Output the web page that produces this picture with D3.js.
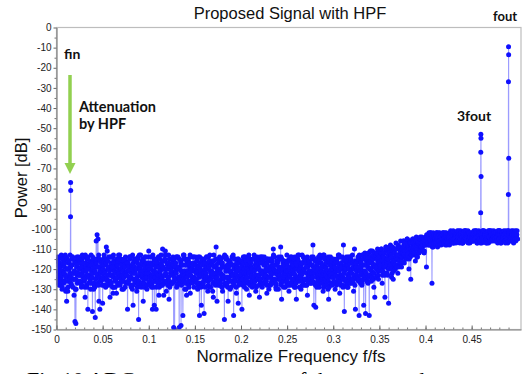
<!DOCTYPE html>
<html>
<head>
<meta charset="utf-8">
<script src="https://cdn.jsdelivr.net/npm/d3@7"></script>
<style>
  body { margin: 0; background: #fff; }
  svg { display: block; }
</style>
</head>
<body>
<svg id="chart" width="525" height="374"></svg>
<script>
// FFT bins of the noise floor, one every 0.001 f/fs
const binStep = 0.001;
const noiseDb = [
  -121,-116,-127,-119,-114,-124,-130,-118,-122,-115,-131,-136,-120,-117,-125,-119,-128,-114,-122,-133,-146,-147,-118,-126,-115,
  -123,-117,-129,-113,-121,-126,-134,-119,-115,-140,-124,-118,-130,-121,-141,-116,-127,-144,-106,-103,-105,-136,-140,-119,-125,
  -137,-122,-116,-128,-109,-111,-120,-126,-134,-117,-123,-114,-129,-119,-125,-132,-118,-121,-115,-127,-120,-130,-116,-124,-119,
  -122,-117,-140,-126,-114,-121,-129,-118,-138,-116,-127,-120,-131,-115,-145,-123,-119,-128,-117,-136,-125,-114,-122,-130,-119,
  -111,-124,-118,-129,-140,-121,-138,-116,-140,-126,-119,-133,-115,-123,-128,-110,-120,-126,-111,-131,-117,-124,-135,-119,-122,
  -127,-116,-149,-150,-121,-114,-128,-120,-149,-125,-148,-118,-143,-123,-130,-115,-133,-121,-126,-117,-132,-119,-124,-114,-129,
  -121,-126,-116,-130,-119,-143,-123,-138,-115,-127,-142,-120,-125,-114,-131,-118,-124,-129,-116,-122,-134,-119,-126,-109,-136,
  -120,-115,-128,-122,-117,-131,-124,-145,-119,-114,-127,-136,-121,-116,-129,-123,-118,-143,-125,-115,-132,-120,-137,-126,-117,
  -122,-140,-119,-127,-114,-124,-130,-118,-121,-133,-116,-126,-120,-128,-115,-123,-131,-119,-125,-117,-134,-121,-114,-129,-122,
  -118,-126,-120,-132,-115,-124,-119,-128,-116,-122,-110,-127,-121,-130,-117,-125,-114,-123,-109,-135,-120,-126,-116,-129,-121,
  -117,-124,-131,-119,-114,-127,-122,-116,-129,-120,-135,-118,-125,-113,-123,-130,-117,-126,-121,-115,-128,-119,-133,-124,-116,
  -122,-127,-115,-108,-138,-120,-139,-118,-126,-114,-129,-121,-117,-124,-131,-113,-125,-119,-128,-116,-135,-122,-114,-127,-120,
  -124,-117,-130,-121,-115,-126,-119,-132,-114,-123,-128,-108,-141,-118,-125,-116,-129,-120,-114,-127,-122,-117,-131,-110,-140,
  -119,-125,-115,-143,-121,-117,-128,-113,-138,-123,-142,-116,-126,-112,-143,-120,-111,-124,-115,-129,-134,-113,-119,-110,-125,
  -116,-121,-110,-127,-114,-119,-134,-109,-117,-123,-137,-112,-108,-120,-115,-125,-110,-118,-107,-113,-122,-109,-116,-106,-119,
  -112,-106,-117,-109,-114,-105,-111,-120,-107,-125,-110,-105,-113,-108,-116,-104,-110,-107,-112,-105,-109,-104,-111,-106,-108,
  -104,-119,-106,-103,-108,-105,-102,-127,-106,-104,-107,-103,-105,-109,-102,-106,-104,-108,-103,-105,-107,-102,-104,-106,-103,
  -105,-108,-102,-104,-106,-101,-105,-103,-107,-102,-104,-106,-103,-101,-105,-107,-102,-104,-106,-103,-105,-101,-104,-107,-102,
  -104,-106,-102,-105,-103,-101,-106,-104,-102,-105,-103,-107,-101,-104,-106,-102,-105,-103,-101,-104,-106,-102,-105,-103,-101,
  -104,-102,-106,-103,-101,-105,-103,-107,-102,-104,-101,-106,-103,-102,-105,-101,-104,-102,-106,-103,-101,-104,-102,-105,-103
];

// in-between bins (at +0.25, +0.5, +0.75 of a step), given as dB below -100
const depthQ1 = [
  18,24,15,27,21,13,29,17,22,26,14,20,31,16,23,19,28,15,25,21,17,30,14,22,26,
  20,15,28,23,17,25,13,21,29,18,24,16,27,22,14,30,19,25,17,23,28,15,21,26,18,
  24,17,21,29,15,26,19,23,14,27,20,32,16,22,25,18,28,13,24,20,17,26,21,15,29,
  16,23,27,19,25,14,22,30,17,21,26,15,24,28,18,20,13,27,23,16,29,19,25,22,17,
  22,28,14,24,18,26,21,15,29,17,23,19,27,13,25,20,33,16,22,26,18,24,15,28,21,
  19,14,26,22,17,29,20,24,15,27,21,18,25,13,23,30,16,22,28,19,14,26,21,17,24,
  25,20,16,28,23,14,21,27,18,24,15,29,22,17,26,19,13,25,21,31,16,23,28,18,22,
  17,26,22,15,29,19,24,13,27,21,18,25,16,30,22,14,23,28,19,26,17,21,15,27,24,
  23,16,28,20,14,25,22,18,27,15,24,19,29,21,13,26,17,23,20,28,16,25,22,14,27,
  14,27,21,17,24,30,15,22,26,19,13,25,18,28,21,16,24,20,27,15,23,29,18,22,26,
  26,19,15,23,28,17,21,25,14,27,20,24,16,29,22,18,13,26,21,25,15,28,19,23,17,
  21,25,18,14,27,22,16,29,20,24,15,26,19,23,13,28,21,17,25,30,16,22,27,18,24,
  15,22,27,20,17,25,13,23,28,19,24,16,21,26,14,29,18,22,27,15,20,25,17,23,19,
  21,16,26,13,23,19,27,15,22,12,25,18,14,24,20,11,26,17,13,22,19,12,24,16,21,
  14,20,10,23,16,12,19, 9,22,15,11,18,13,24, 9,17,12,20,10,15, 8,19,13,11,16,
  10, 6,14, 8,12, 5,11,15, 7,10,13, 6, 9,12, 5, 8,14, 6,10, 4, 9, 7,11, 5, 8,
   5, 3, 7, 4, 8, 2, 6, 4, 9, 3, 5, 7, 2, 6, 4, 8, 3, 5, 7, 2, 4, 6, 3, 8, 5,
   3, 6, 1, 5, 4, 7, 2, 5, 3, 6, 4, 1, 7, 3, 5, 2, 6, 4, 1, 5, 3, 7, 2, 4, 6,
   2, 5, 3, 6, 1, 4, 7, 3, 5, 2, 6, 4, 1, 5, 3, 6, 2, 4, 7, 1, 5, 3, 6, 2, 4,
   5, 2, 4, 7, 3, 1, 6, 4, 2, 5, 3, 6, 1, 4, 7, 2, 5, 3, 1, 6, 4, 2, 5, 3, 1
];
const depthQ2 = [
  25,14,21,17,28,23,15,26,19,13,24,20,29,16,22,27,18,14,25,21,30,17,23,15,20,
  16,27,22,19,14,25,21,28,15,23,18,26,13,24,20,17,29,22,15,27,19,24,16,21,28,
  20,13,25,18,23,16,28,21,26,14,19,24,17,29,22,15,27,20,13,25,18,23,30,16,22,
  27,21,17,24,15,28,20,13,25,19,22,16,29,14,26,21,18,24,15,27,20,23,17,28,14,
  17,24,20,27,13,22,18,26,16,25,14,29,21,17,24,19,27,15,23,20,28,13,26,18,21,
  23,18,15,25,21,14,27,19,24,16,28,22,13,26,18,24,21,15,29,17,23,20,27,14,25,
  14,22,27,19,24,17,29,15,21,26,18,23,14,20,28,16,25,22,17,27,13,24,19,26,21,
  28,16,20,25,18,23,14,27,21,15,29,19,24,17,22,26,13,20,25,18,23,15,28,21,16,
  19,25,14,22,27,16,24,20,13,28,17,23,26,15,21,18,29,14,24,20,26,17,22,27,15,
  24,18,26,15,21,28,19,23,16,25,20,14,27,22,17,30,21,25,14,19,26,16,23,20,28,
  16,23,20,27,14,25,18,22,29,17,24,15,21,26,19,23,28,14,20,25,17,22,27,16,24,
  27,14,24,19,22,16,28,21,17,25,13,23,27,18,22,15,26,20,24,14,29,18,23,16,21,
  22,19,16,28,24,13,21,26,17,23,29,15,25,20,18,27,14,24,21,16,26,19,23,28,17,
  17,24,20,15,27,22,13,25,18,21,14,26,19,12,23,16,21,11,25,18,14,20,12,23,17,
  11,18,15,21,12,17,22,10,16,13,20, 9,18,14,11,21,16,10,19,13,15, 9,17,12,14,
  12, 8,11,15, 6,13, 9,10,14, 7,11, 5,12, 9, 6,13, 8,10, 5,11, 7, 9, 6,12, 8,
   6, 4, 8, 3, 5, 7, 4, 9, 2, 6, 5, 3, 8, 4, 6, 2, 7, 5, 3, 6, 4, 8, 2, 5, 7,
   4, 2, 6, 3, 7, 5, 2, 4, 6, 1, 5, 3, 6, 2, 4, 7, 3, 5, 1, 6, 4, 2, 5, 3, 6,
   6, 3, 1, 5, 4, 2, 6, 3, 5, 7, 2, 4, 6, 1, 3, 5, 7, 2, 4, 6, 3, 1, 5, 4, 2,
   3, 6, 4, 1, 5, 2, 7, 3, 5, 4, 6, 2, 4, 5, 1, 3, 6, 4, 2, 5, 7, 3, 1, 4, 5
];
const depthQ3 = [
  16,22,28,19,25,14,21,27,17,23,30,15,26,20,13,24,18,29,22,16,25,19,27,14,23,
  26,19,15,24,21,29,17,23,14,27,20,25,18,22,15,28,21,16,24,19,13,26,22,17,25,
  15,28,22,17,25,20,14,27,23,18,29,13,21,26,19,24,16,22,28,15,23,20,26,18,14,
  23,17,26,21,14,24,19,28,22,15,25,20,17,27,13,23,29,16,21,25,18,14,24,20,27,
  20,26,17,23,29,15,24,19,22,27,14,21,25,18,28,16,23,13,26,20,24,17,29,22,15,
  27,16,24,19,22,28,14,25,20,17,23,26,15,21,27,18,24,16,22,13,26,20,18,25,21,
  18,25,21,14,27,20,23,16,28,22,17,24,19,25,14,29,21,18,23,16,27,22,15,24,20,
  22,14,27,23,17,25,19,28,15,24,20,16,26,21,18,23,27,15,22,29,19,24,17,20,26,
  25,21,17,29,23,19,26,14,22,18,27,21,15,24,28,20,16,25,19,23,14,27,21,17,24,
  17,23,28,20,16,24,21,27,18,14,26,22,29,16,23,19,25,15,28,21,17,24,20,26,13,
  21,28,24,16,22,19,26,15,23,27,18,13,25,20,24,17,22,28,16,25,19,14,26,21,23,
  18,22,26,21,15,28,24,19,23,16,27,20,25,14,29,19,23,17,21,26,15,24,20,28,22,
  26,17,23,15,21,27,18,24,20,14,25,22,19,28,16,23,26,17,21,25,13,27,20,16,24,
  23,14,25,19,16,26,21,13,24,18,22,15,27,17,20,14,25,19,22,12,18,24,15,21,13,
  19,12,21,16,14,23,11,18,15,20,10,17,13,22,16,11,19,14,10,18,13,16,11,17,10,
   9,13, 7,11,15, 8,12, 6,10,13, 9, 7,11, 5,10,14, 7,12, 9, 6,10, 8, 5,11, 7,
   4, 7, 5, 2, 6, 8, 3, 5, 7, 4, 6, 2, 5, 8, 3, 6, 4, 7, 2, 5, 3, 6, 4, 7, 3,
   5, 3, 6, 4, 2, 7, 5, 3, 6, 4, 2, 6, 5, 3, 7, 4, 1, 5, 6, 3, 2, 5, 4, 6, 3,
   4, 6, 2, 5, 3, 7, 4, 1, 6, 3, 5, 2, 4, 6, 3, 7, 2, 5, 4, 1, 6, 3, 5, 2, 6,
   2, 4, 6, 3, 5, 1, 4, 6, 3, 2, 5, 7, 4, 3, 6, 2, 4, 5, 3, 6, 2, 4, 6, 3, 5
];

// leakage bins around the tones (fin, 3fout, fout)
const toneFreq = [0.0152, 0.0153, 0.0154,
                  0.4598, 0.4599, 0.4600, 0.4601, 0.4602,
                  0.4898, 0.4899, 0.4900, 0.4901, 0.4902];
const toneDb = [-94, -77, -81,
                -92, -62, -53, -55, -74,
                -83, -27, -9.5, -13.5, -65];

const xTicks = [0, 0.05, 0.1, 0.15, 0.2, 0.25, 0.3, 0.35, 0.4, 0.45];
const yTicks = [0, -10, -20, -30, -40, -50, -60, -70, -80, -90, -100, -110, -120, -130, -140, -150];

const svg = d3.select("#chart");
const pl = 56.5, pr = 521, pt = 27.5, pb = 329.5;

const x = d3.scaleLinear().domain([0, 0.5035]).range([pl, pr]);
const y = d3.scaleLinear().domain([-150, 0]).range([pb, pt]);

const fine = (arr, off) => arr.map((v, i) => ({f: (i + off) * binStep, db: -100 - v}));

const points = noiseDb.map((v, i) => ({f: i * binStep, db: v}))
  .concat(fine(depthQ1, 0.25), fine(depthQ2, 0.5), fine(depthQ3, 0.75))
  .concat(toneFreq.map((f, i) => ({f: f, db: toneDb[i]})))
  .sort((a, b) => a.f - b.f);

// plot frame
svg.append("rect")
  .attr("x", pl).attr("y", pt)
  .attr("width", pr - pl).attr("height", pb - pt)
  .attr("fill", "none")
  .attr("stroke", "#bdbdbd")
  .attr("stroke-width", 1.2);

svg.append("clipPath").attr("id", "plotClip")
  .append("rect")
  .attr("x", pl).attr("y", pt - 4)
  .attr("width", pr - pl).attr("height", pb - pt + 4);

const plot = svg.append("g").attr("clip-path", "url(#plotClip)");

const line = d3.line()
  .x(d => x(d.f))
  .y(d => y(d.db));

plot.append("path")
  .datum(points)
  .attr("d", line)
  .attr("fill", "none")
  .attr("stroke", "#4a4aff")
  .attr("stroke-opacity", 0.55)
  .attr("stroke-width", 1.1);

plot.selectAll("circle")
  .data(points)
  .enter()
  .append("circle")
  .attr("cx", d => x(d.f))
  .attr("cy", d => y(d.db))
  .attr("r", 2.5)
  .attr("fill", "#1010ff");

// y axis
const yMinor = d3.range(-145, 0, 10);
svg.append("g")
  .attr("transform", `translate(${pl},0)`)
  .call(d3.axisLeft(y).tickValues(yMinor).tickSize(2).tickFormat(""))
  .call(g => g.select(".domain").remove())
  .selectAll("line").attr("stroke", "#777");

const yAxis = svg.append("g")
  .attr("transform", `translate(${pl},0)`)
  .call(d3.axisLeft(y).tickValues(yTicks).tickSize(3).tickSizeOuter(0).tickPadding(2)
    .tickFormat(d => String(d)));

// x axis, ticks pointing inward
const xMinor = d3.range(0.01, 0.5, 0.01);
svg.append("g")
  .attr("transform", `translate(0,${pb})`)
  .call(d3.axisBottom(x).tickValues(xMinor).tickSize(-2).tickFormat(""))
  .call(g => g.select(".domain").remove())
  .selectAll("line").attr("stroke", "#777");

const xAxis = svg.append("g")
  .attr("transform", `translate(0,${pb})`)
  .call(d3.axisBottom(x).tickValues(xTicks).tickSize(-4).tickSizeOuter(0).tickPadding(6)
    .tickFormat(d => String(d)));

[yAxis, xAxis].forEach(g => {
  g.select(".domain").attr("stroke", "#808080").attr("stroke-width", 1.2);
  g.selectAll(".tick line").attr("stroke", "#666");
  g.selectAll(".tick text")
    .attr("fill", "#222")
    .attr("font-family", "Liberation Sans, Arial, sans-serif")
    .attr("font-size", "10px");
});

// titles
const sans = "Liberation Sans, Arial, sans-serif";
svg.append("text")
  .attr("x", 290).attr("y", 19)
  .attr("text-anchor", "middle")
  .attr("font-family", sans)
  .attr("font-size", "16.5px")
  .attr("fill", "#111")
  .text("Proposed Signal with HPF");

svg.append("text")
  .attr("x", 291).attr("y", 362)
  .attr("text-anchor", "middle")
  .attr("font-family", sans)
  .attr("font-size", "17px")
  .attr("fill", "#111")
  .text("Normalize Frequency f/fs");

svg.append("text")
  .attr("transform", "translate(27,178) rotate(-90)")
  .attr("text-anchor", "middle")
  .attr("font-family", sans)
  .attr("font-size", "16.5px")
  .attr("fill", "#111")
  .text("Power [dB]");

// annotations
const note = (txt, xx, yy, size) => svg.append("text")
  .attr("x", xx).attr("y", yy)
  .attr("font-family", "Lato, Open Sans, sans-serif")
  .attr("font-weight", "bold")
  .attr("font-size", size)
  .attr("fill", "#111")
  .text(txt);

note("fin", 64, 59, "14px");
note("Attenuation", 79, 112, "14.5px");
note("by HPF", 79, 129, "14.5px");
note("3fout", 457, 121, "14px");
note("fout", 493, 21, "13px");

// green arrow
svg.append("line")
  .attr("x1", 70).attr("y1", 75)
  .attr("x2", 70).attr("y2", 164)
  .attr("stroke", "#92d050")
  .attr("stroke-width", 3.5);
svg.append("path")
  .attr("d", "M64.5,163 L75.5,163 L70,174 Z")
  .attr("fill", "#92d050");

// caption, cut by the bottom edge as in the source figure
svg.append("text")
  .attr("x", 27).attr("y", 387)
  .attr("font-family", "Liberation Serif, Times New Roman, serif")
  .attr("font-size", "22px")
  .attr("fill", "#000")
  .text("Fig.10 ADC output spectrum of the proposed");
</script>
</body>
</html>
